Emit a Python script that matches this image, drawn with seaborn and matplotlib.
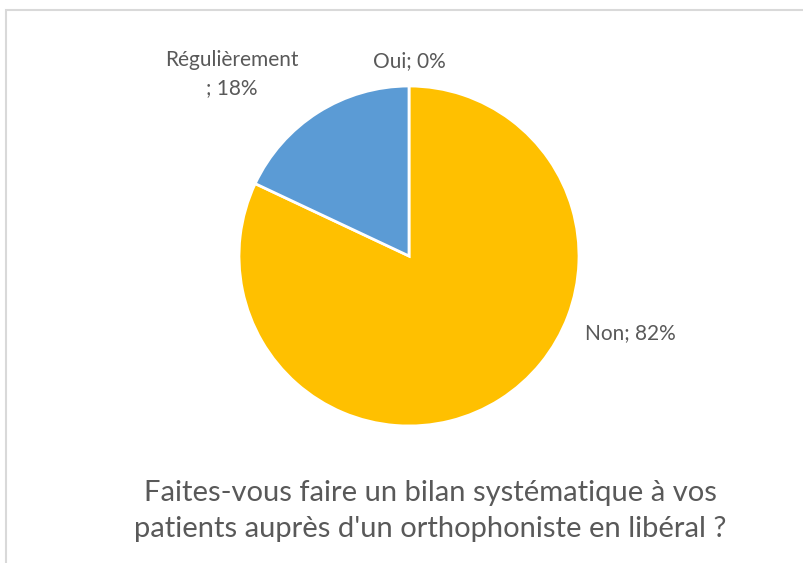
import matplotlib
matplotlib.use("Agg")
import matplotlib.pyplot as plt
import seaborn as sns
from matplotlib.patches import Rectangle

categories = ["Oui", "Non", "Régulièrement"]
values = [0, 82, 18]
colors = ["#A5A5A5", "#FFC000", "#5B9BD5"]
title_lines = ["Faites-vous faire un bilan systématique à vos",
               "patients auprès d'un orthophoniste en libéral ?"]

sns.set_theme(style="white")
plt.rcParams["font.family"] = ["Lato", "DejaVu Sans"]

W, H = 804, 563
fig = plt.figure(figsize=(W / 100, H / 100), dpi=100)
fig.patch.set_facecolor("white")
ax = fig.add_axes([0, 0, 1, 1])

cx, cy, r = 409, H - 256, 170
ax.pie(values, colors=colors, startangle=90, counterclock=False,
       center=(cx, cy), radius=r,
       wedgeprops=dict(edgecolor="white", linewidth=2))
ax.set_xlim(0, W)
ax.set_ylim(0, H)
ax.set_aspect("equal")
ax.axis("off")

txt = "#595959"
lab = [f"{c}; {v}%" for c, v in zip(categories, values)]
ax.text(409, H - 61, lab[0], ha="center", va="center", fontsize=15, color=txt)
ax.text(630, H - 333, lab[1], ha="center", va="center", fontsize=15, color=txt)
ax.text(232, H - 74, "Régulièrement\n; 18%", ha="center", va="center",
        fontsize=15, color=txt, linespacing=1.5)

ax.text(430, H - 493, title_lines[0], ha="center", va="center", fontsize=21, color=txt)
ax.text(430, H - 529, title_lines[1], ha="center", va="center", fontsize=21, color=txt)

fig.patches.append(Rectangle((6 / W, -0.1), 1.2, (H - 10) / H + 0.1,
                             transform=fig.transFigure, fill=False,
                             edgecolor="#D9D9D9", linewidth=1.5))

fig.savefig("out.png", dpi=100)
